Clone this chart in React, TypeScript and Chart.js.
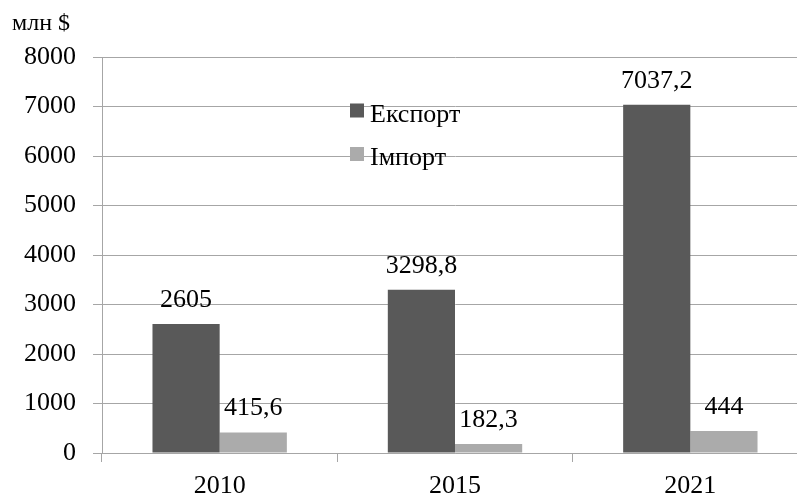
import React, { useEffect, useRef } from "react";
import { Chart, registerables } from "chart.js";

Chart.register(...registerables);

const categories = ["2010", "2015", "2021"];
const exportValues = [2605, 3298.8, 7037.2];
const importValues = [415.6, 182.3, 444];
const seriesNames = ["Експорт", "Імпорт"];
const unitLabel = "млн $";
const yMax = 8000;
const yStep = 1000;

const FONT = "'Liberation Serif', 'Times New Roman', serif";
const DARK = "#595959";
const LIGHT = "#ababab";
const GRID = "#a6a6a6";

const fmt = (v: number) => String(v).replace(".", ",");

const overlayPlugin = {
  id: "overlay",
  afterDatasetsDraw(chart: any) {
    const ctx = chart.ctx;
    ctx.save();
    ctx.fillStyle = "#000";
    ctx.font = `26px ${FONT}`;
    ctx.textAlign = "center";
    ctx.textBaseline = "alphabetic";
    chart.data.datasets.forEach((ds: any, di: number) => {
      const meta = chart.getDatasetMeta(di);
      meta.data.forEach((el: any, i: number) => {
        ctx.fillText(fmt(ds.data[i]), el.x, el.y - 17);
      });
    });
    // unit label
    ctx.textAlign = "left";
    ctx.font = `24px ${FONT}`;
    ctx.fillText(unitLabel, 12, 30);
    // legend
    const ca = chart.chartArea;
    const lx = ca.left + 248;
    const rows = [121.5, 165];
    ctx.font = `26px ${FONT}`;
    chart.data.datasets.forEach((ds: any, di: number) => {
      const by = rows[di];
      ctx.fillStyle = ds.backgroundColor;
      ctx.fillRect(lx, by - 18, 14, 14);
      ctx.fillStyle = "#000";
      ctx.fillText(ds.label, lx + 20, by);
    });
    ctx.restore();
  },
};

export default function App() {
  const ref = useRef<HTMLCanvasElement>(null);
  useEffect(() => {
    const canvas = ref.current!;
    const chart = new Chart(canvas, {
      type: "bar",
      data: {
        labels: categories,
        datasets: [
          { label: seriesNames[0], data: exportValues, backgroundColor: DARK, borderWidth: 0 },
          { label: seriesNames[1], data: importValues, backgroundColor: LIGHT, borderWidth: 0 },
        ],
      },
      options: {
        responsive: false,
        animation: false,
        devicePixelRatio: 1,
        layout: { padding: { top: 57, right: 0, bottom: 0, left: 0 } },
        datasets: { bar: { barPercentage: 1, categoryPercentage: 0.571 } },
        plugins: { legend: { display: false }, tooltip: { enabled: false }, title: { display: false } },
        scales: {
          x: {
            offset: true,
            grid: {
              display: true,
              drawOnChartArea: false,
              drawTicks: true,
              tickLength: 9,
              offset: true,
              color: GRID,
            },
            border: { display: true, color: GRID, width: 1 },
            ticks: { color: "#000", font: { family: FONT, size: 26 }, padding: 9, maxRotation: 0 },
            afterFit: (s: any) => { s.height = 48; },
          },
          y: {
            min: 0,
            max: yMax,
            grid: { color: GRID, tickLength: 9, drawTicks: true },
            border: { display: true, color: GRID, width: 1 },
            ticks: {
              stepSize: yStep,
              color: "#000",
              padding: 17,
              font: { family: FONT, size: 26 },
              callback: (v: any) => String(v),
            },
            afterFit: (s: any) => { s.width = 102; },
          },
        },
      },
      plugins: [overlayPlugin],
    });
    return () => chart.destroy();
  }, []);
  return (
    <div style={{ position: "absolute", left: 0, top: 0, width: 797, height: 501, overflow: "hidden", background: "#fff" }}>
      <canvas ref={ref} width={808} height={501} style={{ width: 808, height: 501, display: "block" }} />
    </div>
  );
}
